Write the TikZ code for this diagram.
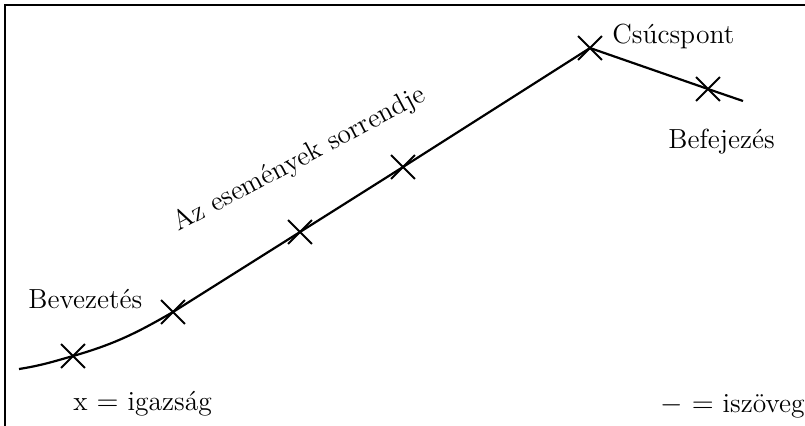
\documentclass[tikz,border=0pt]{standalone}
\usetikzlibrary{positioning,shapes.misc}
\tikzset{
  frameline/.style={line width=1pt},
  plotline/.style={line width=1.1pt,line join=round},
  crossmark/.style={draw,cross out,line width=0.9pt,minimum size=11pt,inner sep=0pt},
  caption/.style={font=\fontsize{13.8}{16}\selectfont,inner sep=0pt},
}
\begin{document}
\begin{tikzpicture}[x=0.5pt,y=-0.5pt]
\useasboundingbox (0,0) rectangle (805,425);
\clip (0,0) rectangle (805,425);

% frame (right and bottom sides fall outside)
\draw[frameline] (5,440) |- (830,5);

\coordinate (start) at (19,369);
\node[crossmark] (intro) at (73,356) {};
\node[crossmark] (rise1) at (173,312) {};
\node[crossmark] (rise2) at (300,232) {};
\node[crossmark] (rise3) at (403,167) {};
\node[crossmark] (climax) at (590,48) {};
\node[crossmark] (fall) at (708,89) {};
\coordinate (finish) at (743,101);

\draw[plotline] (start) to[out=9,in=196] (intro.center) to[out=16,in=210] (rise1.center)
  -- (rise2.center) -- (rise3.center) -- (climax.center) -- (fall.center) -- (finish);

\node[caption,anchor=base west] (introlabel) at (28,308) {Bevezetés};
\node[caption,anchor=base west] (climaxlabel) at (612,43) {Csúcspont};
\node[caption,anchor=base west] (falllabel) at (668,148) {Befejezés};
\node[caption,anchor=base,rotate=28] (orderlabel) at (303,166) {Az események sorrendje};
\node[caption,anchor=base west] (truthlabel) at (73,410) {x $=$ igazság};
\node[caption,anchor=base west] (textlabel) at (660,412) {$-$ $=$ iszöveg};

\end{tikzpicture}
\end{document}
